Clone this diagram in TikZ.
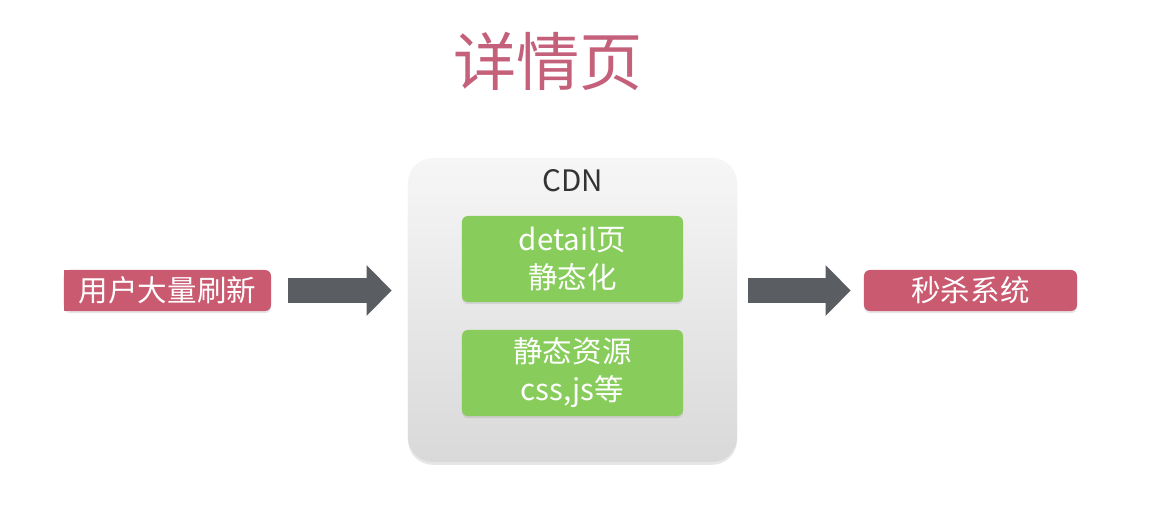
\documentclass[tikz,border=0pt]{standalone}
\usepackage{fontspec}
\setmainfont{Noto Sans CJK SC}
\usetikzlibrary{arrows.meta,shadows,backgrounds}
\definecolor{pinkred}{HTML}{C95A70}
\definecolor{titlepink}{HTML}{C4607A}
\definecolor{leafgreen}{HTML}{88CD5C}
\definecolor{arrowgray}{HTML}{5A5D61}
\definecolor{cdntext}{HTML}{333333}
\begin{document}
\begin{tikzpicture}[x=0.025cm, y=-0.025cm,
    every node/.style={font=\fontsize{21}{27}\selectfont, align=center},
    redbox/.style={fill=pinkred, text=white, rounded corners=0.15cm, minimum height=1.025cm,
      drop shadow={shadow xshift=0pt, shadow yshift=-1.5pt, opacity=0.2}},
    greenbox/.style={fill=leafgreen, text=white, rounded corners=0.15cm,
      minimum width=5.525cm, minimum height=2.15cm,
      drop shadow={shadow xshift=0pt, shadow yshift=-1.5pt, opacity=0.2}},
    fatarrow/.style={draw=arrowgray, line width=0.6cm,
      -{Triangle[length=0.625cm, width=1.225cm]}}]
  \useasboundingbox (0,0) rectangle (1160,506);
  \node[text=titlepink, font=\fontsize{45}{50}\selectfont] (title) at (548, 61) {详情页};
  \node[rounded corners=0.625cm, top color=gray!7, bottom color=gray!30,
    minimum width=8.225cm, minimum height=7.6cm,
    drop shadow={shadow xshift=0pt, shadow yshift=-2pt, opacity=0.2}] (cdn) at (572.5, 310) {};
  \node[text=cdntext] (cdnlabel) at (573, 181) {CDN};
  \node[greenbox] (detail) at (572.5, 259) {detail页\\静态化};
  \node[greenbox] (static) at (572.5, 373) {静态资源\\css,js等};
  \node[redbox, minimum width=5.175cm] (user) at (167.5, 290.5) {用户大量刷新};
  \begin{pgfonlayer}{background}
    \fill[pinkred] (user.north west) rectangle ([xshift=0.3cm]user.south west);
  \end{pgfonlayer}
  \node[redbox, minimum width=5.325cm] (seckill) at (970.5, 290.5) {秒杀系统};
  \draw[fatarrow, shorten <=0.425cm, shorten >=0.4cm] (user.east) -- (user.east -| cdn.west);
  \draw[fatarrow, shorten <=0.275cm, shorten >=0.325cm] (cdn.east |- seckill.west) -- (seckill.west);
\end{tikzpicture}
\end{document}
